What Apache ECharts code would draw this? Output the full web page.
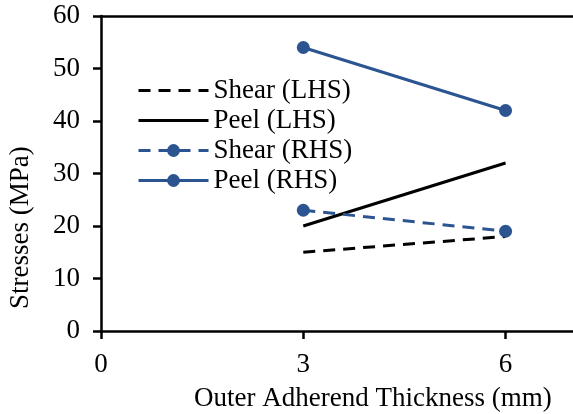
<!DOCTYPE html>
<html><head><meta charset="utf-8">
<script src="https://cdn.jsdelivr.net/npm/echarts@6/dist/echarts.min.js"></script>
<style>html,body{margin:0;padding:0;background:#fff}#c{width:573px;height:414px}</style>
</head><body><div id="c"></div>
<script>
const thickness = [3, 6];
const shearLHS = [15, 18];
const peelLHS = [20, 32];
const shearRHS = [23, 19];
const peelRHS = [54, 42];
const xTicks = [0, 3, 6];
const yTicks = [0, 10, 20, 30, 40, 50, 60];
const seriesNames = ['Shear (LHS)', 'Peel (LHS)', 'Shear (RHS)', 'Peel (RHS)'];
const xTitle = 'Outer Adherend Thickness (mm)';
const yTitle = 'Stresses (MPa)';

const FONT = '"Liberation Serif","Times New Roman",serif';
const BLUE = '#2C5491';
const pairs = arr => thickness.map((t, i) => [t, arr[i]]);

const chart = echarts.init(document.getElementById('c'));
chart.setOption({
  animation: false,
  textStyle: { fontFamily: FONT, color: '#000' },
  grid: { left: 101, top: 16, width: 474, height: 315, containLabel: false },
  legend: {
    left: 132, top: 72, orient: 'vertical', itemWidth: 70, itemHeight: 16, itemGap: 3,
    textStyle: { fontFamily: FONT, fontSize: 27, color: '#000' },
    data: [
      { name: seriesNames[0], itemStyle: { opacity: 0 }, lineStyle: { width: 3 } },
      { name: seriesNames[1], itemStyle: { opacity: 0 }, lineStyle: { width: 3 } },
      { name: seriesNames[2], lineStyle: { width: 3 } },
      { name: seriesNames[3], lineStyle: { width: 3 } }
    ]
  },
  xAxis: [{
    type: 'value', min: 0, max: 7, interval: 3,
    axisLine: { show: true, lineStyle: { color: '#000', width: 2.5 } },
    axisTick: { show: true, length: 8, lineStyle: { color: '#000', width: 2.5 } },
    axisLabel: { fontFamily: FONT, fontSize: 27, color: '#000', margin: 20, showMaxLabel: false,
      formatter: v => xTicks.includes(v) ? String(v) : '' },
    splitLine: { show: false }
  }, {
    type: 'value', position: 'top', min: 0, max: 7,
    axisLine: { show: true, lineStyle: { color: '#000', width: 2.5 } },
    axisTick: { show: false }, axisLabel: { show: false }, splitLine: { show: false }
  }],
  yAxis: {
    type: 'value', min: 0, max: 60, interval: 10,
    axisLine: { show: true, lineStyle: { color: '#000', width: 2.5 } },
    axisTick: { show: true, length: 8, lineStyle: { color: '#000', width: 2.5 } },
    axisLabel: { fontFamily: FONT, fontSize: 27, color: '#000', margin: 21,
      formatter: v => yTicks.includes(v) ? String(v) : '' },
    splitLine: { show: false }
  },
  graphic: [
    { type: 'text', left: 194, top: 385, style: { text: xTitle, fontFamily: FONT, fontSize: 27, fill: '#000' } },
    { type: 'text', x: 7, y: 309, rotation: Math.PI / 2,
      style: { text: yTitle, fontFamily: FONT, fontSize: 27, fill: '#000' } }
  ],
  series: [
    { name: seriesNames[0], type: 'line', data: pairs(shearLHS), symbol: 'none',
      lineStyle: { color: '#000', width: 3, type: [12, 8] }, itemStyle: { color: '#000' } },
    { name: seriesNames[1], type: 'line', data: pairs(peelLHS), symbol: 'none',
      lineStyle: { color: '#000', width: 3 }, itemStyle: { color: '#000' } },
    { name: seriesNames[2], type: 'line', data: pairs(shearRHS), symbol: 'circle', symbolSize: 13,
      lineStyle: { color: BLUE, width: 3, type: [12, 8] }, itemStyle: { color: BLUE } },
    { name: seriesNames[3], type: 'line', data: pairs(peelRHS), symbol: 'circle', symbolSize: 13,
      lineStyle: { color: BLUE, width: 3 }, itemStyle: { color: BLUE } }
  ]
});
</script></body></html>
